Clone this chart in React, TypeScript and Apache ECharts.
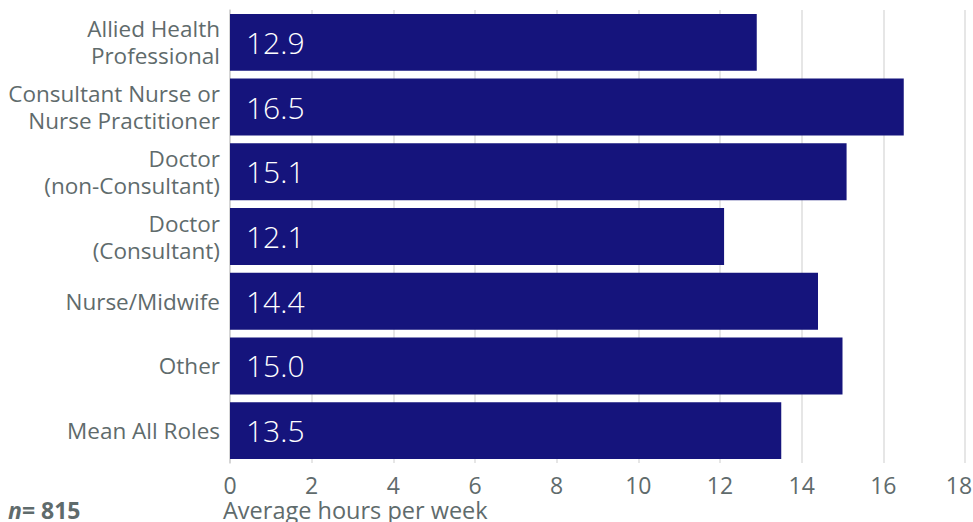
import React, { useEffect, useRef } from "react";
import * as echarts from "echarts";

const categories = [
  "Allied Health\nProfessional",
  "Consultant Nurse or\nNurse Practitioner",
  "Doctor\n(non-Consultant)",
  "Doctor\n(Consultant)",
  "Nurse/Midwife",
  "Other",
  "Mean All Roles",
];
const hours = [12.9, 16.5, 15.1, 12.1, 14.4, 15.0, 13.5];
const xTicks = { min: 0, max: 18, interval: 2 };
const axisTitle = "Average hours per week";
const sampleSize = 815;

const FONT = "'Open Sans', 'Noto Sans', sans-serif";
const GREY = "#5f6b6c";
const BAR = "#15147c";

export default function App() {
  const ref = useRef<HTMLDivElement>(null);
  useEffect(() => {
    if (!ref.current) return;
    const chart = echarts.init(ref.current, undefined, { renderer: "svg" });
    chart.setOption({
      animation: false,
      textStyle: { fontFamily: FONT },
      grid: { left: 230, right: 8, top: 10, bottom: 59, containLabel: false, outerBoundsMode: "none" },
      xAxis: {
        type: "value",
        min: xTicks.min,
        max: xTicks.max,
        interval: xTicks.interval,
        axisLine: { show: false },
        axisTick: { show: false },
        splitLine: { show: true, lineStyle: { color: "#dedede", width: 1.5 } },
        axisLabel: {
          color: GREY,
          fontSize: 23,
          lineHeight: 20,
          fontFamily: FONT,
          margin: 12,
          formatter: (v: number) => (v === xTicks.max ? `{m|${v}}` : `${v}`),
          rich: {
            m: { fontSize: 23, lineHeight: 20, color: GREY, fontFamily: FONT, padding: [0, 12, 0, 0] },
          },
        },
      },
      yAxis: {
        type: "category",
        inverse: true,
        data: categories,
        axisLine: { show: true, lineStyle: { color: "#cfcfcf", width: 1.5 } },
        axisTick: { show: false },
        axisLabel: {
          color: GREY,
          fontSize: 22.5,
          lineHeight: 27,
          fontFamily: FONT,
          margin: 10,
          align: "right",
        },
      },
      series: [
        {
          type: "bar",
          data: hours,
          barCategoryGap: "12%",
          itemStyle: { color: BAR },
          label: {
            show: true,
            position: "insideLeft",
            distance: 16,
            color: "#ffffff",
            fontSize: 30,
            fontWeight: 300,
            fontFamily: FONT,
            formatter: (p: any) => Number(p.value).toFixed(1),
          },
        },
      ],
      graphic: [
        {
          type: "text",
          left: 223,
          top: 498,
          style: {
            text: axisTitle,
            fill: GREY,
            font: `23.5px ${FONT}`,
            lineHeight: 22,
          },
        },
        {
          type: "text",
          left: 8,
          top: 498,
          style: {
            text: `{i|n}{b|= ${sampleSize}}`,
            rich: {
              i: { fontStyle: "italic", fontWeight: "bold", fontSize: 23, lineHeight: 22, fill: GREY, fontFamily: FONT },
              b: { fontWeight: "bold", fontSize: 23, lineHeight: 22, fill: GREY, fontFamily: FONT },
            },
          },
        },
      ],
    });
    return () => chart.dispose();
  }, []);
  return (
    <div
      ref={ref}
      style={{ position: "fixed", left: 0, top: 0, width: 973, height: 522, background: "#fff" }}
    />
  );
}
